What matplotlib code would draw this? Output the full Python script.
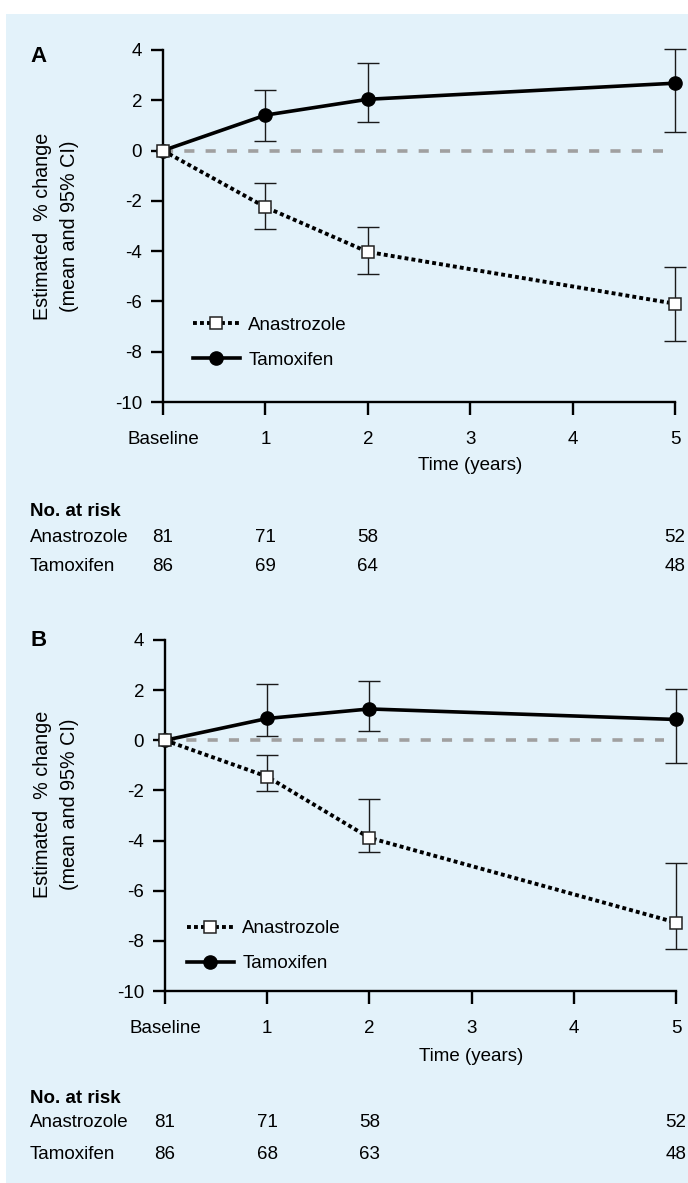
import matplotlib
matplotlib.use("Agg")
import matplotlib.pyplot as plt
from matplotlib.patches import Rectangle
from matplotlib.transforms import blended_transform_factory

plt.rcParams["font.family"] = ["Liberation Sans", "DejaVu Sans"]
plt.rcParams["font.size"] = 13.5

# time points (baseline = 0) and axis tick labels
years = [0, 1, 2, 5]
x_ticks = [0, 1, 2, 3, 4, 5]
x_tick_labels = ["Baseline", "1", "2", "3", "4", "5"]
y_ticks = [4, 2, 0, -2, -4, -6, -8, -10]

# panel A: estimated % change, mean and 95% CI
a_ana_mean = [0, -2.25, -4.03, -6.09]
a_ana_lo = [0, -3.13, -4.89, -7.56]
a_ana_hi = [0, -1.29, -3.04, -4.64]
a_tam_mean = [0, 1.41, 2.04, 2.68]
a_tam_lo = [0, 0.37, 1.13, 0.73]
a_tam_hi = [0, 2.41, 3.49, 4.05]

# panel B
b_ana_mean = [0, -1.45, -3.89, -7.27]
b_ana_lo = [0, -2.03, -4.47, -8.33]
b_ana_hi = [0, -0.60, -2.35, -4.89]
b_tam_mean = [0, 0.87, 1.25, 0.83]
b_tam_lo = [0, 0.17, 0.36, -0.89]
b_tam_hi = [0, 2.24, 2.37, 2.04]

# numbers at risk
a_ana_risk = [81, 71, 58, 52]
a_tam_risk = [86, 69, 64, 48]
b_ana_risk = [81, 71, 58, 52]
b_tam_risk = [86, 68, 63, 48]

BG = "#E3F2FA"
W, H = 688, 1183

fig = plt.figure(figsize=(W / 100, H / 100), dpi=100)
fig.patch.set_facecolor("white")
fig.patches.append(Rectangle((6 / W, 0), 1 - 6 / W, 1 - 14 / H, transform=fig.transFigure,
                             facecolor=BG, edgecolor="none", zorder=-10))


def draw_panel(ax, ana, tam, risk, letter, letter_y, legend_anchor, time_y, risk_rows, ylabel_y):
    ax.set_facecolor("none")
    ana_mean, ana_lo, ana_hi = ana
    tam_mean, tam_lo, tam_hi = tam

    ax.hlines(0, 0, 4.88, color="#A0A0A0", lw=2.6, linestyles=(0, (2.8, 3.1)), zorder=1)

    # error bars (none at baseline)
    for mean, lo, hi in ((tam_mean, tam_lo, tam_hi), (ana_mean, ana_lo, ana_hi)):
        err = [[m - l for m, l in zip(mean[1:], lo[1:])],
               [h - m for m, h in zip(mean[1:], hi[1:])]]
        ax.errorbar(years[1:], mean[1:], yerr=err, fmt="none", ecolor="#1a1a1a",
                    elinewidth=1.0, capsize=8, capthick=1.0, zorder=2, clip_on=False)

    ax.plot(years, tam_mean, color="black", lw=2.6, marker="o", ms=9.5,
            markerfacecolor="black", markeredgecolor="black", zorder=3, clip_on=False,
            label="Tamoxifen")
    ax.plot(years, ana_mean, color="black", lw=2.8, linestyle=(0, (1, 0.8)), marker="s", ms=8.5,
            markerfacecolor="white", markeredgecolor="#222222", markeredgewidth=1.1, zorder=4,
            clip_on=False, label="Anastrozole")

    ax.set_xlim(0, 5)
    ax.set_ylim(-10, 4)
    ax.set_xticks(x_ticks)
    ax.set_xticklabels(x_tick_labels)
    ax.set_yticks(y_ticks)
    ax.set_yticklabels([str(v) for v in y_ticks])
    for side in ("top", "right"):
        ax.spines[side].set_visible(False)
    for side in ("left", "bottom"):
        ax.spines[side].set_linewidth(1.7)
    ax.tick_params(axis="both", direction="out", length=9, width=1.7, color="black")
    ax.tick_params(axis="x", pad=12)
    ax.tick_params(axis="y", pad=6)

    handles, labels = ax.get_legend_handles_labels()
    ax.legend(handles[::-1], labels[::-1], loc="center left", bbox_to_anchor=legend_anchor,
              frameon=False, handlelength=2.5, handletextpad=0.45, labelspacing=0.95,
              borderpad=0, borderaxespad=0, numpoints=1)

    fig_x_ax_y = blended_transform_factory(fig.transFigure, ax.transAxes)
    trans = blended_transform_factory(ax.transData, ax.transAxes)

    ax.text(56 / W, ylabel_y, "Estimated  % change\n(mean and 95% CI)", transform=fig_x_ax_y,
            rotation=90, ha="center", va="center", multialignment="center", linespacing=1.5,
            fontsize=14.2)
    ax.text(3, time_y, "Time (years)", transform=trans, ha="center", va="center")

    fig.text(30 / W, 1 - letter_y / H, letter, fontweight="bold", ha="left", va="center",
             fontsize=16)

    head_y, ana_y, tam_y = risk_rows
    ax.text(30 / W, head_y, "No. at risk", transform=fig_x_ax_y,
            fontweight="bold", ha="left", va="center")
    ax.text(30 / W, ana_y, "Anastrozole", transform=fig_x_ax_y, ha="left", va="center")
    ax.text(30 / W, tam_y, "Tamoxifen", transform=fig_x_ax_y, ha="left", va="center")
    for x, n_a, n_t in zip(years, risk[0], risk[1]):
        ax.text(x, ana_y, str(n_a), transform=trans, ha="center", va="center")
        ax.text(x, tam_y, str(n_t), transform=trans, ha="center", va="center")


ax_a = fig.add_axes([163 / W, 1 - 402 / H, 512 / W, 352 / H])
ax_b = fig.add_axes([165 / W, 1 - 991 / H, 511 / W, 351 / H])

draw_panel(ax_a, (a_ana_mean, a_ana_lo, a_ana_hi), (a_tam_mean, a_tam_lo, a_tam_hi),
           (a_ana_risk, a_tam_risk), "A", 57, (0.0586, 0.169), -0.179,
           (-0.3125, -0.386, -0.466), 0.5)
draw_panel(ax_b, (b_ana_mean, b_ana_lo, b_ana_hi), (b_tam_mean, b_tam_lo, b_tam_hi),
           (b_ana_risk, b_tam_risk), "B", 641, (0.043, 0.128), -0.188,
           (-0.305, -0.376, -0.467), 0.533)

fig.savefig("out.png", dpi=100, facecolor=fig.get_facecolor())
